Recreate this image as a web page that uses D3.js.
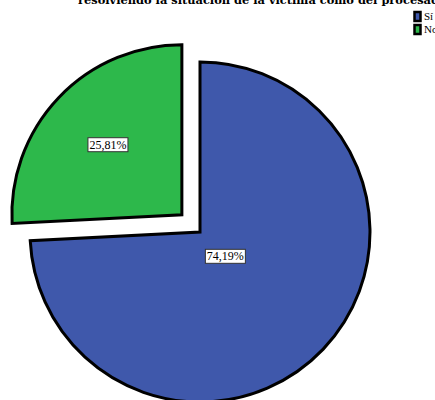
<!DOCTYPE html>
<html><head><meta charset="utf-8">
<script src="https://cdn.jsdelivr.net/npm/d3@7"></script>
<style>body{margin:0;background:#fff}svg{display:block}</style>
</head><body>
<script>
const categories = ["Sí", "No"];
const values = [74.19, 25.81];
const valueLabels = ["74,19%", "25,81%"];
const colors = ["#3F58AB", "#2DB84B"];
const title = "resolviendo la situación de la víctima como del procesado";

const W = 435, H = 400;
const svg = d3.select("body").append("svg").attr("width", W).attr("height", H);

svg.append("text").attr("x", 78).attr("y", 4)
  .attr("font-family", "DejaVu Serif, serif").attr("font-weight", "bold")
  .attr("font-size", 11.4).attr("fill", "#000").text(title);

const cx = 200, cy = 232, r = 170;
const explode = [0, 25];
const labelR = [35, 102];

const pie = d3.pie().sort(null).startAngle(0).endAngle(2 * Math.PI);
const arcs = pie(values);
const arc = d3.arc().innerRadius(0).outerRadius(r);

const g = svg.append("g").attr("transform", `translate(${cx},${cy})`);
arcs.forEach((a, i) => {
  const mid = (a.startAngle + a.endAngle) / 2;
  const dx = Math.sin(mid) * explode[i], dy = -Math.cos(mid) * explode[i];
  const sg = g.append("g").attr("transform", `translate(${dx},${dy})`);
  sg.append("path").attr("d", arc(a)).attr("fill", colors[i])
    .attr("stroke", "#000").attr("stroke-width", 3).attr("stroke-linejoin", "miter");
});
arcs.forEach((a, i) => {
  const mid = (a.startAngle + a.endAngle) / 2;
  const dx = Math.sin(mid) * explode[i], dy = -Math.cos(mid) * explode[i];
  const lx = dx + Math.sin(mid) * labelR[i], ly = dy - Math.cos(mid) * labelR[i];
  const lg = g.append("g").attr("transform", `translate(${lx},${ly})`);
  const t = lg.append("text").attr("text-anchor", "middle").attr("dy", "0.35em")
    .attr("font-family", "Liberation Serif, serif").attr("font-size", 12)
    .attr("fill", "#000").text(valueLabels[i]);
  const bb = t.node().getBBox();
  lg.insert("rect", "text").attr("x", bb.x - 1.5).attr("y", bb.y)
    .attr("width", bb.width + 3).attr("height", bb.height)
    .attr("fill", "#fff").attr("stroke", "#333").attr("stroke-width", 1);
});

const leg = svg.append("g").attr("transform", "translate(413,11)");
categories.forEach((c, i) => {
  const row = leg.append("g").attr("transform", `translate(0,${i * 13})`);
  row.append("rect").attr("x", 1.5).attr("y", 1).attr("width", 6).attr("height", 9)
    .attr("fill", colors[i]).attr("stroke", "#000").attr("stroke-width", 2.5);
  row.append("text").attr("x", 11).attr("y", 8.5)
    .attr("font-family", "Liberation Serif, serif").attr("font-size", 11)
    .attr("fill", "#000").text(c);
});
</script>
</body></html>
